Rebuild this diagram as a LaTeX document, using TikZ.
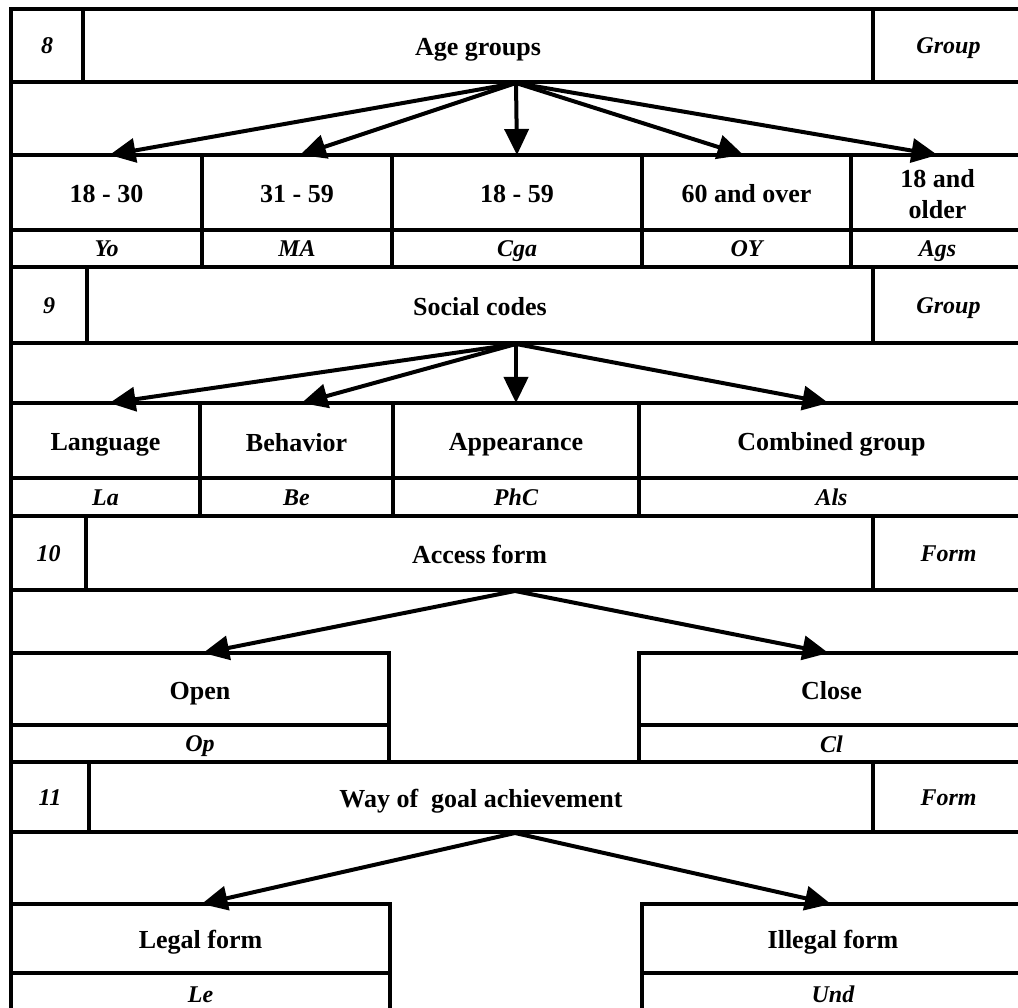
\documentclass[tikz,border=0pt]{standalone}
\usepackage{fontspec}
\setmainfont{Liberation Serif}
\usetikzlibrary{arrows.meta}
\newcommand\mainfnt{\fontsize{26}{31}\selectfont\bfseries\def\cellstrut{\rule[-5pt]{0pt}{31pt}}}
\newcommand\codefnt{\fontsize{24}{28}\selectfont\bfseries\itshape\def\cellstrut{\rule[-5pt]{0pt}{27pt}}}
\newcommand\mkcell[7][mainfnt]{%
  \node[cellst, minimum width={#5-#3}, minimum height={#6-#4}, font=\csname #1\endcsname]
    (#2) at ({(#3+#5)/2},{(#4+#6)/2}) {\cellstrut #7};}
\tikzset{
  cellst/.style={draw, rectangle, line width=4pt, inner sep=0pt, outer sep=0pt, align=center},
  border/.style={line width=4pt},
  arr/.style={line width=4pt, -{Triangle[length=26pt,width=24pt]}},
}
\begin{document}
\begin{tikzpicture}[x=1pt,y=-1pt]
\useasboundingbox (0,0) rectangle (1018,1008);
\clip (0,0) rectangle (1018,1008);
\fill[white] (0,0) rectangle (1018,1008);
% ---------- section 8
\mkcell[codefnt]{n8}{11}{9}{83}{82}{8}
\mkcell{h8}{83}{9}{873}{82}{Age groups}
\mkcell[codefnt]{g8}{873}{9}{1024}{82}{Group}
\mkcell{c81}{11}{155}{202}{230}{18 - 30}
\mkcell{c82}{202}{155}{392}{230}{31 - 59}
\mkcell{c83}{392}{155}{642}{230}{18 - 59}
\mkcell{c84}{642}{155}{851}{230}{60 and over}
\mkcell{c85}{851}{155}{1024}{230}{18 and\\older\cellstrut}
\mkcell[codefnt]{k81}{11}{230}{202}{267}{Yo}
\mkcell[codefnt]{k82}{202}{230}{392}{267}{MA}
\mkcell[codefnt]{k83}{392}{230}{642}{267}{Cga}
\mkcell[codefnt]{k84}{642}{230}{851}{267}{OY}
\mkcell[codefnt]{k85}{851}{230}{1024}{267}{Ags}
\draw[border] (n8.south west) -- (c81.north west);
\draw[border] (h8.south east) -- (g8.south east);
\coordinate (o8) at (516,83);
\draw[arr] (o8) -- ([xshift=3pt]c81.north);
\draw[arr] (o8) -- ([xshift=3pt]c82.north);
\draw[arr] (o8) -- (c83.north);
\draw[arr] (o8) -- ([xshift=-3pt]c84.north);
\draw[arr] (o8) -- (c85.north);
% ---------- section 9
\mkcell[codefnt]{n9}{11}{267}{87}{343}{9}
\mkcell{h9}{87}{267}{873}{343}{Social codes}
\mkcell[codefnt]{g9}{873}{267}{1024}{343}{Group}
\mkcell{c91}{11}{403}{200}{478}{Language}
\mkcell{c92}{200}{403}{393}{478}{Behavior}
\mkcell{c93}{393}{403}{639}{478}{Appearance}
\mkcell{c94}{639}{403}{1024}{478}{Combined group}
\mkcell[codefnt]{k91}{11}{478}{200}{516}{La}
\mkcell[codefnt]{k92}{200}{478}{393}{516}{Be}
\mkcell[codefnt]{k93}{393}{478}{639}{516}{PhC}
\mkcell[codefnt]{k94}{639}{478}{1024}{516}{Als}
\draw[border] (n9.south west) -- (c91.north west);
\coordinate (o9) at (516,344);
\draw[arr] (o9) -- ([xshift=4pt]c91.north);
\draw[arr] (o9) -- ([xshift=5pt]c92.north);
\draw[arr] (o9) -- (c93.north);
\draw[arr] (o9) -- ([xshift=-3pt]c94.north);
% ---------- section 10
\mkcell[codefnt]{n10}{11}{516}{86}{590}{10}
\mkcell{h10}{86}{516}{873}{590}{Access form}
\mkcell[codefnt]{g10}{873}{516}{1024}{590}{Form}
\mkcell{c101}{11}{653}{389}{725}{Open}
\mkcell{c102}{639}{653}{1024}{725}{Close}
\mkcell[codefnt]{k101}{11}{725}{389}{762}{Op}
\mkcell[codefnt]{k102}{639}{725}{1024}{762}{Cl}
\draw[border] (n10.south west) -- (c101.north west);
\coordinate (o10) at (515,591);
\draw[arr] (o10) -- ([xshift=3pt]c101.north);
\draw[arr] (o10) -- ([xshift=-3pt]c102.north);
% ---------- section 11
\mkcell[codefnt]{n11}{11}{762}{89}{832}{11}
\mkcell{h11}{89}{762}{873}{832}{Way of~ goal achievement}
\mkcell[codefnt]{g11}{873}{762}{1024}{832}{Form}
\mkcell{c111}{11}{904}{390}{973}{Legal form}
\mkcell{c112}{642}{904}{1024}{973}{Illegal form}
\mkcell[codefnt]{k111}{11}{973}{390}{1014}{Le}
\mkcell[codefnt]{k112}{642}{973}{1024}{1014}{Und}
\draw[border] (n11.south west) -- (c111.north west);
\coordinate (o11) at (515,833);
\draw[arr] (o11) -- ([xshift=1pt]c111.north);
\draw[arr] (o11) -- ([xshift=-2pt]c112.north);
\end{tikzpicture}
\end{document}
